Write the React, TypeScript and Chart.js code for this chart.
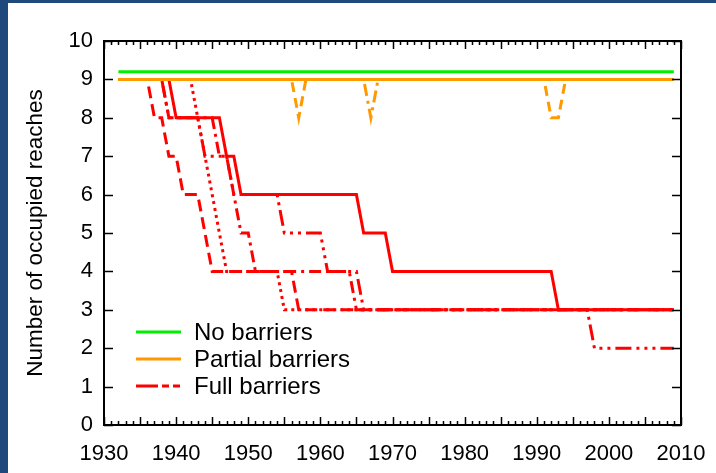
import React, { useEffect, useRef } from "react";
import { Chart, registerables } from "chart.js";

Chart.register(...registerables);

// ---------- DATA ----------
const xMin = 1930;
const xMax = 2010;
const yMin = 0;
const yMax = 10;
const yAxisTitle = "Number of occupied reaches";
const legendLabels = ["No barriers", "Partial barriers", "Full barriers"];

// No barriers
const noYears = [1932, 2009];
const noValues = [9.2, 9.2];

// Partial barriers (three runs)
const partAYears = [1932, 2009];
const partAValues = [9, 9];
const partBYears = [1932, 1956, 1957, 1958, 1991, 1992, 1993, 1994, 2009];
const partBValues = [9, 9, 8, 9, 9, 8, 8, 9, 9];
const partCYears = [1932, 1966, 1967, 1968, 2009];
const partCValues = [9, 9, 8, 9, 9];

// Full barriers (five runs)
const fullAYears = [1932, 1939, 1940, 1946, 1947, 1948, 1949, 1965, 1966, 1969, 1970, 1992, 1993, 2009];
const fullAValues = [9, 9, 8, 8, 7, 7, 6, 6, 5, 5, 4, 4, 3, 3];
const fullBYears = [1932, 1936, 1937, 1938, 1939, 1940, 1941, 1943, 1944, 1945, 1956, 1957, 2009];
const fullBValues = [9, 9, 8, 8, 7, 7, 6, 6, 5, 4, 4, 3, 3];
const fullCYears = [1932, 1938, 1939, 1945, 1946, 1947, 1948, 1949, 1950, 1951, 1964, 1965, 2009];
const fullCValues = [9, 9, 8, 8, 7, 7, 6, 5, 5, 4, 4, 3, 3];
const fullDYears = [1932, 1942, 1943, 1944, 1945, 1946, 1947, 1954, 1955, 2009];
const fullDValues = [9, 9, 8, 7, 6, 5, 4, 4, 3, 3];
const fullEYears = [1932, 1938, 1939, 1943, 1944, 1947, 1948, 1954, 1955, 1960, 1961, 1965, 1966, 1997, 1998, 2009];
const fullEValues = [9, 9, 8, 8, 7, 7, 6, 6, 5, 5, 4, 4, 3, 3, 2, 2];

// ---------- STYLE ----------
const GREEN = "#00ee00";
const ORANGE = "#ff9900";
const RED = "#ff0000";
const FONT = "'Liberation Sans', Arial, sans-serif";

const toPts = (xs: number[], ys: number[]) => xs.map((x, i) => ({ x, y: ys[i] }));

const mk = (label: string, xs: number[], ys: number[], color: string, dash: number[]) => ({
  label,
  data: toPts(xs, ys),
  borderColor: color,
  backgroundColor: color,
  borderDash: dash,
  borderWidth: 3,
  pointRadius: 0,
  fill: false,
  tension: 0,
});

const framePlugin = {
  id: "frame",
  afterDraw(chart: any) {
    const { ctx, chartArea: a, scales } = chart;
    const xs = scales.x;
    const ys = scales.y;
    ctx.save();
    ctx.strokeStyle = "#000";
    ctx.lineWidth = 1.5;
    ctx.beginPath();
    for (let v = xMin; v <= xMax; v += 1) {
      const px = Math.round(xs.getPixelForValue(v)) + 0.5;
      const len = v % 5 === 0 ? 8 : 4;
      ctx.moveTo(px, a.bottom);
      ctx.lineTo(px, a.bottom - len);
      ctx.moveTo(px, a.top);
      ctx.lineTo(px, a.top + len);
    }
    for (let v = yMin; v <= yMax; v += 1) {
      const py = Math.round(ys.getPixelForValue(v)) + 0.5;
      ctx.moveTo(a.left, py);
      ctx.lineTo(a.left + 9, py);
      ctx.moveTo(a.right, py);
      ctx.lineTo(a.right - 9, py);
    }
    ctx.stroke();
    ctx.lineWidth = 2;
    ctx.strokeRect(a.left, a.top, a.right - a.left, a.bottom - a.top);

    // legend
    const reps = [0, 1, 4];
    const rowsY = [a.top + 291, a.top + 318, a.top + 345];
    const x0 = a.left + 32;
    const x1 = a.left + 77;
    const tx = a.left + 90;
    ctx.font = `24px ${FONT}`;
    ctx.textBaseline = "middle";
    ctx.textAlign = "left";
    reps.forEach((di, i) => {
      const ds = chart.data.datasets[di];
      ctx.beginPath();
      ctx.strokeStyle = ds.borderColor;
      ctx.lineWidth = 3;
      ctx.setLineDash(i === 2 ? [22, 4, 7, 4, 7, 4] : []);
      ctx.moveTo(x0, rowsY[i]);
      ctx.lineTo(x1, rowsY[i]);
      ctx.stroke();
      ctx.setLineDash([]);
      ctx.fillStyle = "#000";
      ctx.fillText(legendLabels[i], tx, rowsY[i] + 1);
    });
    ctx.restore();
  },
};

export default function App() {
  const ref = useRef<HTMLCanvasElement | null>(null);

  useEffect(() => {
    if (!ref.current) return;
    const chart = new Chart(ref.current, {
      type: "line",
      data: {
        datasets: [
          mk(legendLabels[0], noYears, noValues, GREEN, []),
          mk(legendLabels[1], partAYears, partAValues, ORANGE, []),
          mk(legendLabels[1], partBYears, partBValues, ORANGE, [10, 6]),
          mk(legendLabels[1], partCYears, partCValues, ORANGE, [12, 5, 3, 5]),
          mk(legendLabels[2], fullEYears, fullEValues, RED, [16, 5, 3, 5, 3, 5, 3, 5]),
          mk(legendLabels[2], fullDYears, fullDValues, RED, [3, 4]),
          mk(legendLabels[2], fullCYears, fullCValues, RED, [12, 5, 3, 5]),
          mk(legendLabels[2], fullBYears, fullBValues, RED, [12, 6]),
          mk(legendLabels[2], fullAYears, fullAValues, RED, []),
        ] as any,
      },
      options: {
        animation: false,
        responsive: false,
        maintainAspectRatio: false,
        layout: { padding: { top: 38, right: 35, left: 0, bottom: 0 } },
        plugins: { legend: { display: false }, tooltip: { enabled: false } },
        scales: {
          x: {
            type: "linear",
            min: xMin,
            max: xMax,
            afterFit: (s: any) => {
              s.height = 48;
              s.paddingLeft = 0;
              s.paddingRight = 0;
            },
            grid: { display: false, drawTicks: false },
            border: { display: false },
            ticks: {
              stepSize: 10,
              autoSkip: false,
              maxRotation: 0,
              padding: 16,
              color: "#000",
              font: { family: FONT, size: 22 },
              callback: (v: any) => String(v),
            },
          },
          y: {
            type: "linear",
            min: yMin,
            max: yMax,
            afterFit: (s: any) => {
              s.width = 96;
            },
            grid: { display: false, drawTicks: false },
            border: { display: false },
            ticks: {
              stepSize: 1,
              padding: 11,
              color: "#000",
              font: { family: FONT, size: 22 },
            },
            title: {
              display: true,
              text: yAxisTitle,
              color: "#000",
              font: { family: FONT, size: 22.5 },
              padding: { top: 14, bottom: 0 },
            },
          },
        },
      } as any,
      plugins: [framePlugin],
    });
    return () => chart.destroy();
  }, []);

  return (
    <div style={{ position: "fixed", left: 0, top: 0, width: 716, height: 473, background: "#1f497d" }}>
      <div style={{ position: "absolute", left: 8, top: 3, width: 708, height: 470, background: "#fff" }}>
        <canvas ref={ref} width={708} height={470} style={{ display: "block", width: 708, height: 470 }} />
      </div>
    </div>
  );
}
